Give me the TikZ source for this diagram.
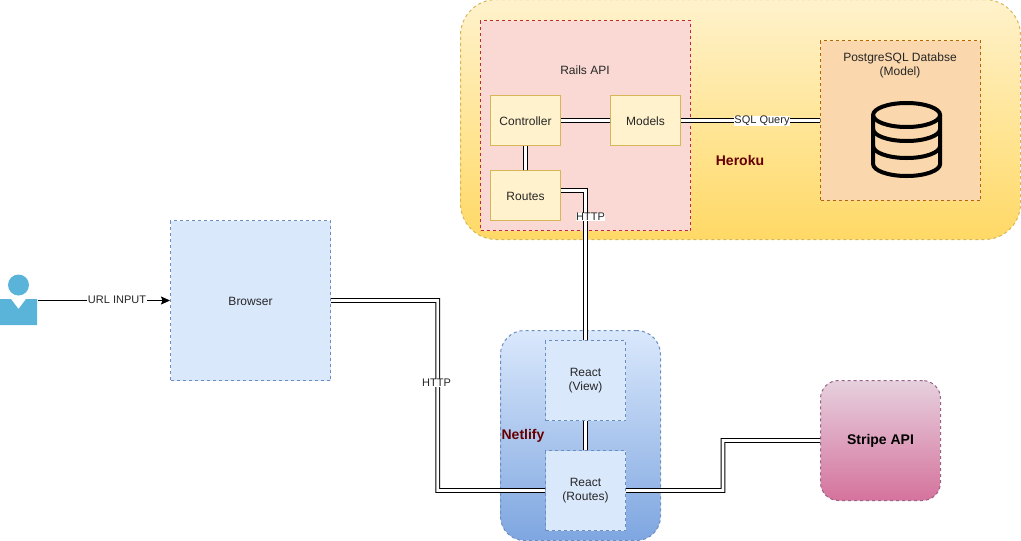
\documentclass[tikz,border=0pt]{standalone}
\usepackage{fontspec}
\setmainfont{Liberation Sans}
\usetikzlibrary{positioning, calc, arrows.meta}
\definecolor{HerokuFrom}{HTML}{FFF2CC}
\definecolor{HerokuTo}{HTML}{FFD966}
\definecolor{HerokuEdge}{HTML}{D6B656}
\definecolor{RailsFill}{HTML}{FAD9D5}
\definecolor{RailsEdge}{HTML}{C0293B}
\definecolor{PgFill}{HTML}{FAD7AC}
\definecolor{PgEdge}{HTML}{B46504}
\definecolor{BlueFill}{HTML}{DAE8FC}
\definecolor{BlueEdge}{HTML}{6C8EBF}
\definecolor{NetlifyTo}{HTML}{7EA6E0}
\definecolor{StripeFrom}{HTML}{E6D0DE}
\definecolor{StripeTo}{HTML}{D5739D}
\definecolor{StripeEdge}{HTML}{996185}
\definecolor{UserBlue}{HTML}{5AB4DA}
\definecolor{HostText}{HTML}{660000}

\begin{document}
\begin{tikzpicture}[
  x=1pt, y=-1pt,
  every node/.style={font=\fontsize{12}{14}\selectfont, align=center, text=black!85, inner sep=0pt, line width=1pt},
  lowtext/.style={execute at begin node={\rule{0pt}{11pt}}},
  host/.style={draw=HerokuEdge, dashed, rounded corners=36pt, minimum width=560pt, minimum height=240pt,
    top color=HerokuFrom, bottom color=HerokuTo},
  panel/.style={dashed, minimum width=160pt, minimum height=160pt},
  comp/.style={draw=HerokuEdge, fill=HerokuFrom, minimum width=70pt, minimum height=50pt, lowtext},
  react/.style={draw=BlueEdge, fill=BlueFill, dashed, minimum width=80pt, minimum height=80pt, lowtext},
  hostlabel/.style={text=HostText, font=\fontsize{14}{16}\selectfont\bfseries},
  link/.style={double=white, double distance=2.6pt, line width=1pt, black, blend mode=normal},
  edgelabel/.style={fill=white, inner sep=0.5pt, font=\fontsize{11}{13}\selectfont}
]
  \useasboundingbox (0,0) rectangle (1021,541);

  % containers
  \node[host] (heroku) at (740.5,119.5) {};
  \node[draw=RailsEdge, fill=RailsFill, dashed, minimum width=210pt, minimum height=210pt] (rails) at (585.5,125.5) {};
  \node[panel, draw=PgEdge, fill=PgFill] (postgres) at (900.5,120.5) {};
  \node[panel, draw=BlueEdge, fill=BlueFill, lowtext] (browser) at (250.5,300.5) {Browser};
  \node[draw=BlueEdge, dashed, rounded corners=24pt, minimum width=160pt, minimum height=210pt,
    top color=BlueFill, bottom color=NetlifyTo] (netlify) at (580.5,435.5) {};
  \node[draw=StripeEdge, dashed, rounded corners=18pt, minimum width=120pt, minimum height=120pt,
    top color=StripeFrom, bottom color=StripeTo, text=black, font=\fontsize{14}{16}\selectfont\bfseries, lowtext] (stripe) at (880.5,440.5) {Stripe API};

  % boxes
  \node[comp] (controller) at (525.5,120.5) {Controller};
  \node[comp] (models) at (645.5,120.5) {Models};
  \node[comp] (routes) at (525.5,195.5) {Routes};
  \node[react] (view) at (585.5,380.5) {React\\(View)};
  \node[react] (reactroutes) at (585.5,490.5) {React\\(Routes)};

  % captions
  \node (railslabel) at (585,70) {Rails API};
  \node (pglabel) at (900,65) {PostgreSQL Databse\\(Model)};
  \node[hostlabel] (herokulabel) at (740,160) {Heroku};
  \node[hostlabel] (netlifylabel) at (523,436) {Netlify};

  % database icon
  \begin{scope}[line width=4pt, black]
    \draw (906.6,115) ellipse (33.5 and 12);
    \draw (873.1,115) -- (873.1,164) arc[start angle=180, end angle=360, x radius=33.5, y radius=-12] -- (940.1,115);
    \draw (873.1,129) arc[start angle=180, end angle=360, x radius=33.5, y radius=-12];
    \draw (873.1,146) arc[start angle=180, end angle=360, x radius=33.5, y radius=-12];
  \end{scope}

  % user
  \node[minimum width=37pt, minimum height=50pt] (user) at (18.5,300.5) {};
  \fill[UserBlue] (18.5,285) circle (10.5);
  \fill[UserBlue] (0,299) -- (11,299) -- (18.5,309) -- (26,299) -- (37,299) -- (37,325) -- (0,325) -- cycle;

  % connectors
  \draw[-{Stealth[length=9pt, width=8pt, inset=1.5pt]}, black, line width=1pt] (user.east) -- node[edgelabel, pos=0.6, yshift=1pt] (urllabel) {URL INPUT} (browser.west);
  \begin{scope}[blend group=multiply]
    \draw[link] (browser.east) -| (437.7,490.5) -- (reactroutes.west);
    \draw[link] (routes.east |- 0,190.5) -| (view.north);
    \draw[link] (view) -- (reactroutes);
    \draw[link] (controller) -- (routes);
    \draw[link] (controller) -- (models);
    \draw[link] (models) -- (postgres.west |- models);
    \draw[link] (stripe.west) -| (723,490.5) -- (reactroutes.east);
  \end{scope}
  \node[edgelabel] (httplow) at (436.5,383) {HTTP};
  \node[edgelabel] (httphigh) at (590.5,217) {HTTP};
  \node[edgelabel] (sqllabel) at (762,121) {SQL Query};
\end{tikzpicture}
\end{document}
